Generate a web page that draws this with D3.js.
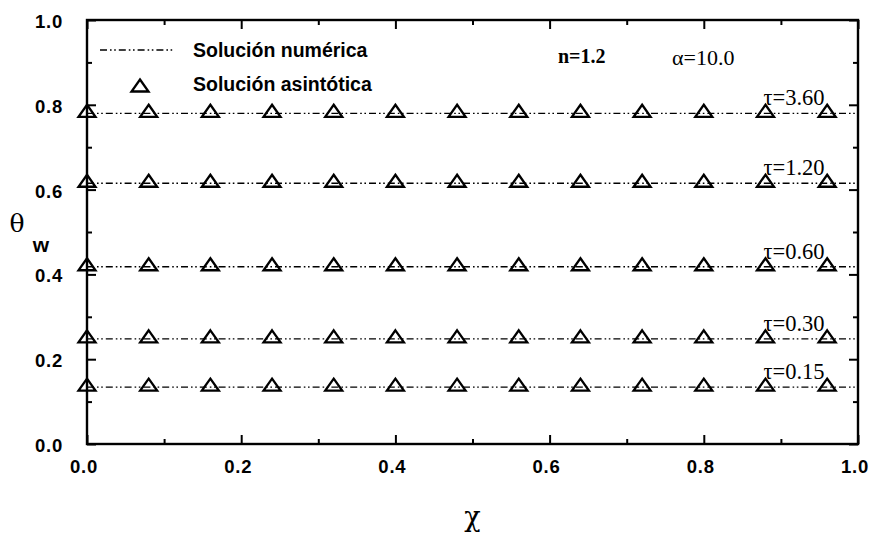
<!DOCTYPE html>
<html>
<head>
<meta charset="utf-8">
<script src="https://cdn.jsdelivr.net/npm/d3@7/dist/d3.min.js"></script>
<style>
  html, body { margin: 0; padding: 0; background: #fff; }
  svg { display: block; }
  .tick-label { font-family: "Liberation Sans", Arial, sans-serif; font-weight: 700; font-size: 18.5px; letter-spacing: 0.8px; fill: #000; }
  .legend-text { font-family: "Liberation Sans", Arial, sans-serif; font-weight: 700; font-size: 19.5px; fill: #000; }
  .serif { font-family: "Liberation Serif", "Times New Roman", serif; fill: #000; }
  .greek { font-family: "DejaVu Serif", serif; fill: #000; }
</style>
</head>
<body>
<svg id="chart" width="873" height="535"></svg>
<script>
// Dimensionless position along the wall
const chiPoints = [0, 0.08, 0.16, 0.24, 0.32, 0.40, 0.48, 0.56, 0.64, 0.72, 0.80, 0.88, 0.96];
// Dimensionless times shown
const tauLabels = ["τ=3.60", "τ=1.20", "τ=0.60", "τ=0.30", "τ=0.15"];
// Wall temperature θw for each τ (numerical and asymptotic solutions coincide)
const thetaNumeric = [0.780, 0.615, 0.418, 0.248, 0.134];
const thetaAsymptotic = [
  [0.780, 0.780, 0.780, 0.780, 0.780, 0.780, 0.780, 0.780, 0.780, 0.780, 0.780, 0.780, 0.780],
  [0.615, 0.615, 0.615, 0.615, 0.615, 0.615, 0.615, 0.615, 0.615, 0.615, 0.615, 0.615, 0.615],
  [0.418, 0.418, 0.418, 0.418, 0.418, 0.418, 0.418, 0.418, 0.418, 0.418, 0.418, 0.418, 0.418],
  [0.248, 0.248, 0.248, 0.248, 0.248, 0.248, 0.248, 0.248, 0.248, 0.248, 0.248, 0.248, 0.248],
  [0.134, 0.134, 0.134, 0.134, 0.134, 0.134, 0.134, 0.134, 0.134, 0.134, 0.134, 0.134, 0.134]
];
const xTicks = [0, 0.2, 0.4, 0.6, 0.8, 1.0];
const yTicks = [0, 0.2, 0.4, 0.6, 0.8, 1.0];
const legendLabels = ["Solución numérica", "Solución asintótica"];

const svg = d3.select("#chart");
const plotLeft = 87, plotRight = 858, plotTop = 20, plotBottom = 444;

const x = d3.scaleLinear().domain([0, 1]).range([plotLeft, plotRight]);
const y = d3.scaleLinear().domain([0, 1]).range([plotBottom, plotTop]);

const majorLen = 9, minorLen = 5;
const minorX = [0.1, 0.3, 0.5, 0.7, 0.9];
const minorY = [0.1, 0.3, 0.5, 0.7, 0.9];

// Axes drawn with inward ticks on all four sides
function ticks(axis, pos, vals, len) {
  svg.append("g").attr("transform", pos)
    .call(axis.tickValues(vals).tickSize(-len).tickFormat(""));
}
ticks(d3.axisBottom(x), `translate(0,${plotBottom})`, xTicks, majorLen);
ticks(d3.axisBottom(x), `translate(0,${plotBottom})`, minorX, minorLen);
ticks(d3.axisTop(x), `translate(0,${plotTop})`, xTicks, majorLen);
ticks(d3.axisTop(x), `translate(0,${plotTop})`, minorX, minorLen);
ticks(d3.axisLeft(y), `translate(${plotLeft},0)`, yTicks, majorLen);
ticks(d3.axisLeft(y), `translate(${plotLeft},0)`, minorY, minorLen);
ticks(d3.axisRight(y), `translate(${plotRight},0)`, yTicks, majorLen);
ticks(d3.axisRight(y), `translate(${plotRight},0)`, minorY, minorLen);

svg.selectAll(".domain").remove();
svg.selectAll(".tick line").attr("stroke", "#000").attr("stroke-width", 2);

// Frame
svg.append("rect")
  .attr("x", plotLeft).attr("y", plotTop)
  .attr("width", plotRight - plotLeft).attr("height", plotBottom - plotTop)
  .attr("fill", "none").attr("stroke", "#000").attr("stroke-width", 2.4);

// Tick labels
svg.selectAll(".xl").data(xTicks).enter().append("text")
  .attr("class", "tick-label")
  .attr("x", d => x(d) - 3).attr("y", 473)
  .attr("text-anchor", "middle")
  .text(d => d.toFixed(1));
svg.selectAll(".yl").data(yTicks).enter().append("text")
  .attr("class", "tick-label")
  .attr("x", 63).attr("y", d => y(d) + 8)
  .attr("text-anchor", "end")
  .text(d => d.toFixed(1));

// Numerical solution: dash-dot-dot lines
const dashPattern = "7,3,1.6,2.6,1.6,3";
const line = d3.line().x(d => x(d[0])).y(d => y(d[1]));
thetaNumeric.forEach(v => {
  svg.append("path")
    .datum([[0, v], [1, v]])
    .attr("d", line)
    .attr("fill", "none").attr("stroke", "#000")
    .attr("stroke-width", 1.3)
    .attr("stroke-dasharray", dashPattern);
});

// Asymptotic solution: open triangles
const tri = "M0,-8.5L8.5,3.5L-8.5,3.5Z";
thetaAsymptotic.forEach(series => {
  svg.append("g").selectAll("path").data(series).enter().append("path")
    .attr("d", tri)
    .attr("transform", (d, i) => `translate(${x(chiPoints[i])},${y(d)})`)
    .attr("fill", "none").attr("stroke", "#000")
    .attr("stroke-width", 2.3).attr("stroke-linejoin", "miter");
});

// τ labels
svg.selectAll(".tau").data(tauLabels).enter().append("text")
  .attr("class", "serif")
  .attr("x", x(0.88) - 2)
  .attr("y", (d, i) => y(thetaNumeric[i]) - 8)
  .attr("font-size", 22.5)
  .text(d => d);

// Parameters
svg.append("text").attr("class", "serif")
  .attr("x", 558).attr("y", 63)
  .attr("font-size", 20).attr("font-weight", 700)
  .text("n=1.2");
svg.append("text").attr("class", "serif")
  .attr("x", 672).attr("y", 65)
  .attr("font-size", 22)
  .text("α=10.0");

// Legend
svg.append("line")
  .attr("x1", 100).attr("x2", 175).attr("y1", 50).attr("y2", 50)
  .attr("stroke", "#000").attr("stroke-width", 1.3)
  .attr("stroke-dasharray", dashPattern);
svg.append("path")
  .attr("d", tri)
  .attr("transform", "translate(140,88)")
  .attr("fill", "none").attr("stroke", "#000").attr("stroke-width", 2.3);
svg.selectAll(".leg").data(legendLabels).enter().append("text")
  .attr("class", "legend-text")
  .attr("x", 193).attr("y", (d, i) => 57 + i * 34)
  .text(d => d);

// Axis titles
svg.append("text").attr("class", "greek")
  .attr("x", (plotLeft + plotRight) / 2).attr("y", 526)
  .attr("text-anchor", "middle").attr("font-size", 27)
  .text("χ");
svg.append("text").attr("class", "greek")
  .attr("x", 17).attr("y", 232)
  .attr("text-anchor", "middle").attr("font-size", 25)
  .text("θ");
svg.append("text")
  .attr("x", 41).attr("y", 252)
  .attr("text-anchor", "middle")
  .attr("font-family", "Liberation Sans, Arial, sans-serif")
  .attr("font-weight", 700).attr("font-size", 21)
  .text("w");
</script>
</body>
</html>
